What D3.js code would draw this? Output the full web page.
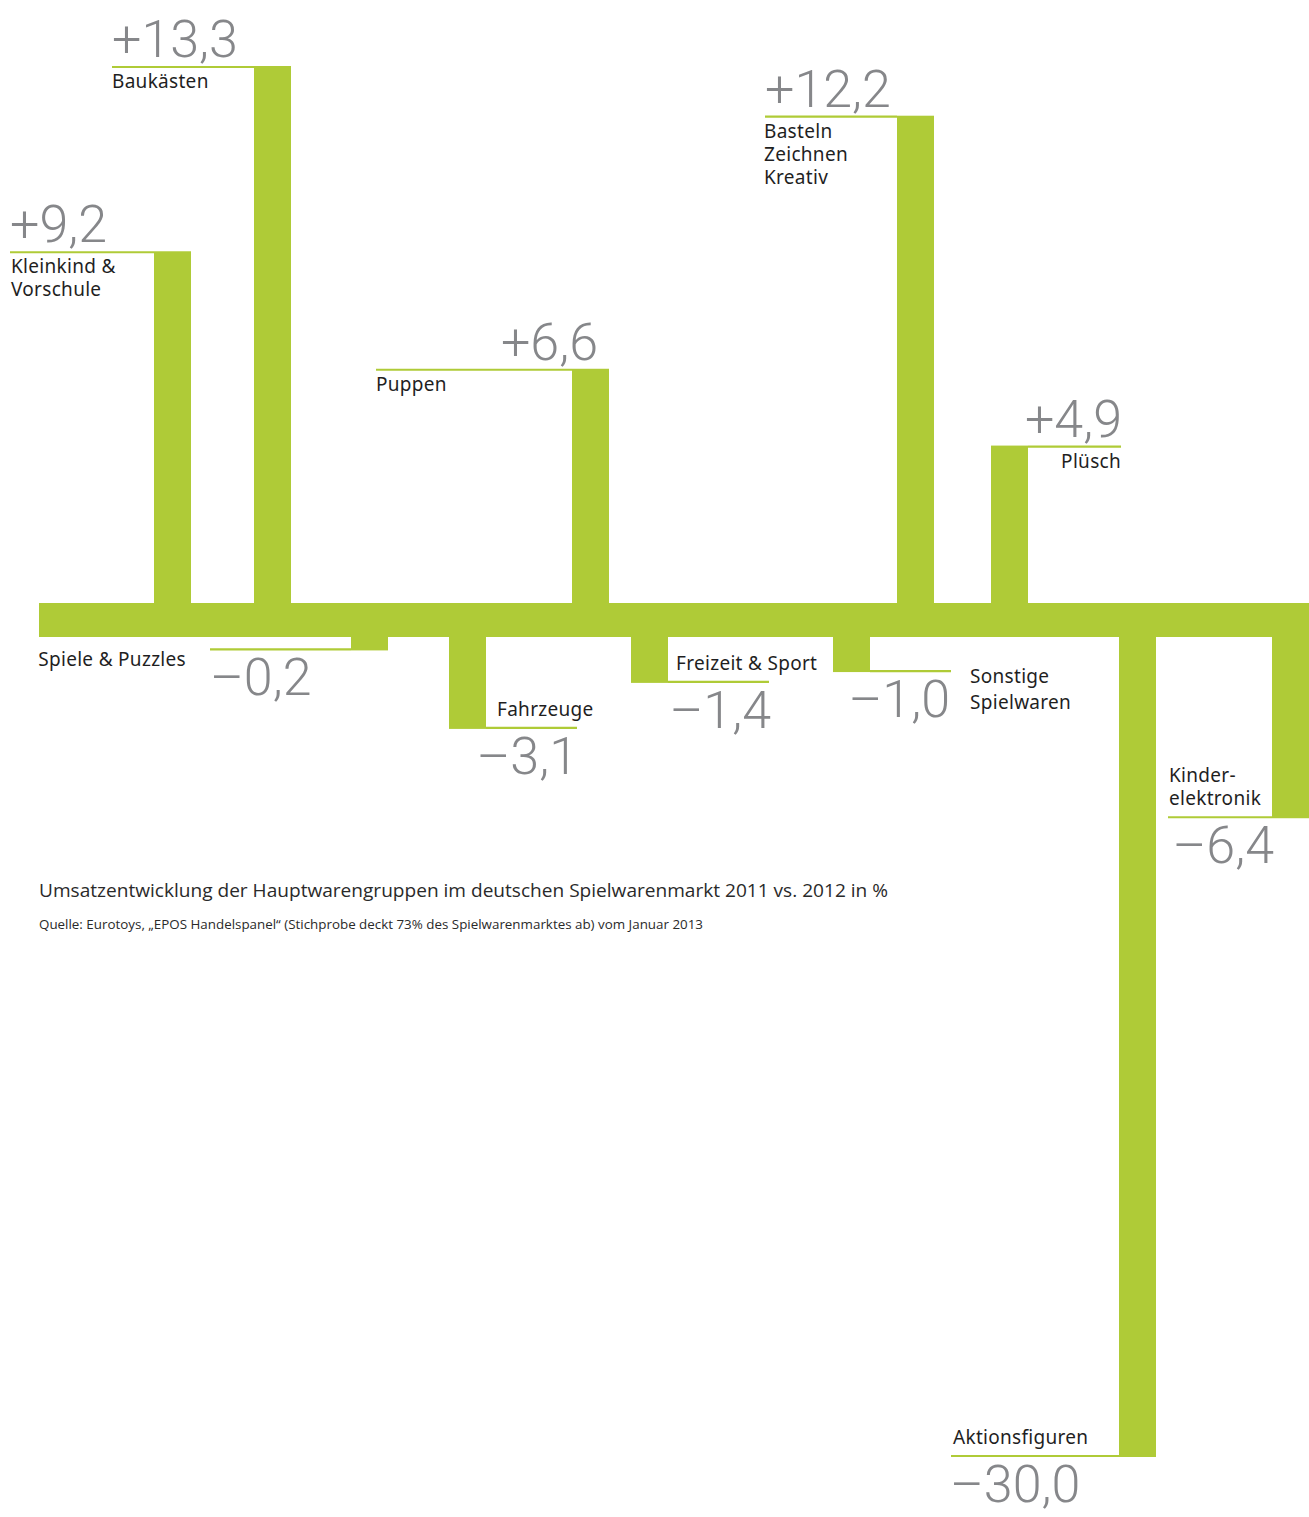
<!DOCTYPE html>
<html><head><meta charset="utf-8">
<script src="https://cdn.jsdelivr.net/npm/d3@7"></script>
<style>
html,body{margin:0;padding:0;background:#fff;}
svg{display:block;}
</style></head>
<body>
<svg id="chart" width="1309" height="1517"></svg>
<script>
// ---- data ----
const categories = ["Kleinkind & Vorschule","Baukästen","Spiele & Puzzles","Fahrzeuge","Puppen","Freizeit & Sport","Sonstige Spielwaren","Basteln Zeichnen Kreativ","Plüsch","Aktionsfiguren","Kinderelektronik"];
const values = [9.2, 13.3, -0.2, -3.1, 6.6, -1.4, -1.0, 12.2, 4.9, -30.0, -6.4];
const nameLines = [["Kleinkind &","Vorschule"],["Baukästen"],["Spiele & Puzzles"],["Fahrzeuge"],["Puppen"],["Freizeit & Sport"],["Sonstige","Spielwaren"],["Basteln","Zeichnen","Kreativ"],["Plüsch"],["Aktionsfiguren"],["Kinder-","elektronik"]];
const title = "Umsatzentwicklung der Hauptwarengruppen im deutschen Spielwarenmarkt 2011 vs. 2012 in %";
const source = "Quelle: Eurotoys, „EPOS Handelspanel“ (Stichprobe deckt 73% des Spielwarenmarktes ab) vom Januar 2013";

// ---- layout ----
const W = 1309, H = 1517;
const green = "#afcb37", numGray = "#86878a", ink = "#1f1f1f";
const barW = 37;
const bandTop = 603, bandBottom = 637, bandLeft = 39;
const xSlots = [154, 254, 351, 449, 572, 631, 833, 897, 991, 1119, 1272];
const layout = [
  {lead:-144, num:["start",0], name:["below","start",1]},
  {lead:-142, num:["start",0], name:["below","start",0]},
  {lead:-141, num:["start",0], name:["left","end",-24]},
  {lead:91,   num:["end",1],   name:["above","start",11]},
  {lead:-196, num:["end",26],  name:["below","start",0]},
  {lead:101,  num:["end",2],   name:["above","start",8]},
  {lead:81,   num:["end",-1],  name:["right","start",19]},
  {lead:-132, num:["start",0], name:["below","start",-1]},
  {lead:93,   num:["end",1],   name:["below","end",0]},
  {lead:-168, num:["start",-1],name:["above","start",2]},
  {lead:-104, num:["end",2],   name:["above","start",1]}
];

const svg = d3.select("#chart");
const x = d3.scaleOrdinal().domain(categories).range(xSlots);
const yUp = d3.scaleLinear().domain([0, 13.3]).range([667, 66]);
const yDown = d3.scaleLinear().domain([0, -30]).range([645, 1457]);
const fmt = v => d3.format("+.1f")(v).replace(".", ",").replace("−", "–");

// band
svg.append("rect").attr("x", bandLeft).attr("y", bandTop)
  .attr("width", W - bandLeft).attr("height", bandBottom - bandTop).attr("fill", green);

const data = categories.map((c,i) => ({c, v: values[i], lines: nameLines[i], L: layout[i]}));

data.forEach(d => {
  const bx = x(d.c);
  const pos = d.v >= 0;
  const yEnd = pos ? yUp(d.v) : yDown(d.v);
  const y0 = pos ? yEnd : bandBottom;
  const h = pos ? bandTop - yEnd + 1 : yEnd - bandBottom;
  svg.append("rect").attr("x", bx).attr("y", pos ? yEnd : bandBottom - 1)
     .attr("width", barW).attr("height", pos ? bandTop - yEnd + 1 : yEnd - bandBottom + 1)
     .attr("fill", green);
  const lineY = pos ? yEnd + 1 : yEnd - 1;
  const x1 = d.L.lead < 0 ? bx + d.L.lead : bx + barW;
  const x2 = d.L.lead < 0 ? bx : bx + barW + d.L.lead;
  svg.append("line").attr("x1", x1).attr("x2", x2).attr("y1", lineY).attr("y2", lineY)
     .attr("stroke", green).attr("stroke-width", 2.2);
  // number
  const [na, ndx] = d.L.num;
  svg.append("text").text(fmt(d.v))
    .attr("x", (na === "start" ? x1 : x2) + ndx)
    .attr("y", pos ? lineY - 10 : lineY + 46)
    .attr("text-anchor", na)
    .attr("font-family", "Roboto, 'Open Sans', sans-serif").attr("font-weight", 300)
    .attr("font-size", 52).attr("fill", numGray);
  // name
  const [mode, anc, dx] = d.L.name;
  let tx, ty0, lh = 23;
  if (mode === "below") { tx = (anc === "start" ? x1 : x2) + dx; ty0 = lineY + 21; }
  else if (mode === "above") { tx = x1 + dx; ty0 = lineY - 12 - (d.lines.length - 1) * lh; }
  else if (mode === "left") { tx = x1 + dx; ty0 = lineY + 17; }
  else { tx = x2 + dx; ty0 = lineY + 12; lh = 26; }
  const t = svg.append("text").attr("text-anchor", anc)
    .attr("font-family", "'Noto Sans', sans-serif").attr("font-size", 19)
    .attr("letter-spacing", 0.3).attr("fill", ink);
  d.lines.forEach((s, k) => t.append("tspan").attr("x", tx).attr("y", ty0 + k * lh).text(s));
});

svg.append("text").text(title).attr("x", 39).attr("y", 897)
  .attr("font-family", "'Open Sans', sans-serif").attr("font-size", 19).attr("fill", "#2a2a2a")
  .attr("textLength", 849).attr("lengthAdjust", "spacingAndGlyphs");
svg.append("text").text(source).attr("x", 39).attr("y", 929)
  .attr("font-family", "'Open Sans', sans-serif").attr("font-size", 13).attr("fill", "#2a2a2a")
  .attr("textLength", 664).attr("lengthAdjust", "spacingAndGlyphs");
</script>
</body></html>
